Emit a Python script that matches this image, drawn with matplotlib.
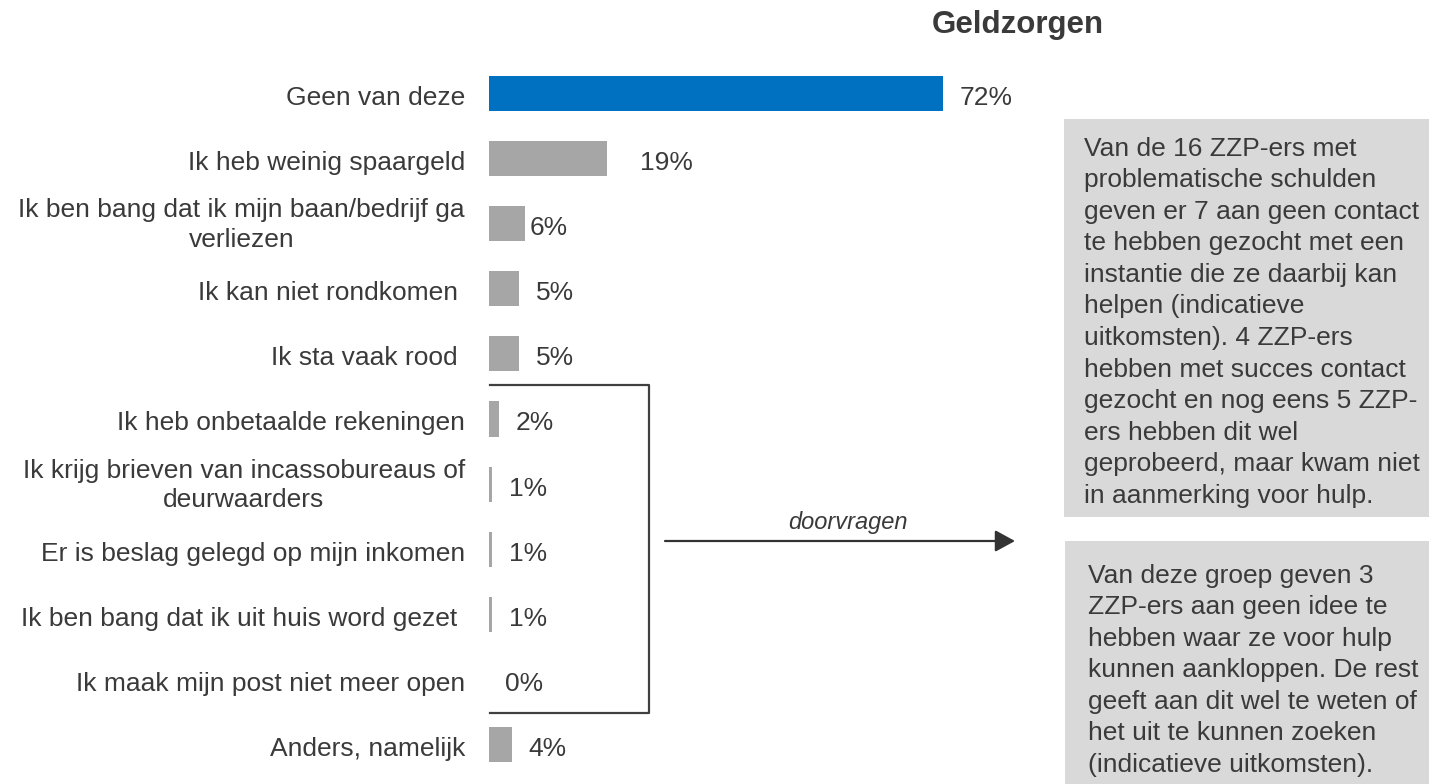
import numpy as np
import matplotlib
matplotlib.use("Agg")
import matplotlib.pyplot as plt
from matplotlib.lines import Line2D
from matplotlib.patches import Rectangle, FancyArrowPatch

plt.rcParams['font.family'] = ['Liberation Sans', 'DejaVu Sans']

# data
categories = [
    "Geen van deze",
    "Ik heb weinig spaargeld",
    "Ik ben bang dat ik mijn baan/bedrijf ga\nverliezen",
    "Ik kan niet rondkomen ",
    "Ik sta vaak rood ",
    "Ik heb onbetaalde rekeningen",
    "Ik krijg brieven van incassobureaus of\ndeurwaarders",
    "Er is beslag gelegd op mijn inkomen",
    "Ik ben bang dat ik uit huis word gezet ",
    "Ik maak mijn post niet meer open",
    "Anders, namelijk",
]
values = [72, 18.7, 5.7, 4.8, 4.8, 1.6, 0.55, 0.55, 0.55, 0, 3.7]
value_labels = ["72%", "19%", "6%", "5%", "5%", "2%", "1%", "1%", "1%", "0%", "4%"]

title = "Geldzorgen"
arrow_label = "doorvragen"
box1_lines = [
    "Van de 16 ZZP-ers met",
    "problematische schulden",
    "geven er 7 aan geen contact",
    "te hebben gezocht met een",
    "instantie die ze daarbij kan",
    "helpen (indicatieve",
    "uitkomsten). 4 ZZP-ers",
    "hebben met succes contact",
    "gezocht en nog eens 5 ZZP-",
    "ers hebben dit wel",
    "geprobeerd, maar kwam niet",
    "in aanmerking voor hulp.",
]
box2_lines = [
    "Van deze groep geven 3",
    "ZZP-ers aan geen idee te",
    "hebben waar ze voor hulp",
    "kunnen aankloppen. De rest",
    "geeft aan dit wel te weten of",
    "het uit te kunnen zoeken",
    "(indicatieve uitkomsten).",
]

W, H = 1429, 784
TXT = '#3a3a3a'
BLUE = '#0070C0'
GREY = '#A6A6A6'
BOX = '#D9D9D9'


def fx(x):
    return x / W


def fy(y):
    return 1 - y / H


fig = plt.figure(figsize=(W / 100, H / 100), dpi=100)

# bar axes: x=0 at pixel 489, 6.306 px per %, rows 65.1 px apart
x0, ppu = 489, 454 / 72
row0, rowh = 93.5, 65.1
ax = fig.add_axes([fx(x0), 0, 1 - fx(x0), 1])
ax.set_xlim(0, (W - x0) / ppu)
ax.set_ylim((H - row0) / rowh, -row0 / rowh)
ax.axis('off')

ypos = np.arange(len(categories))
colors = [BLUE] + [GREY] * (len(categories) - 1)
ax.barh(ypos, values, height=0.54, color=colors)

# value labels
extra = {1: 2.7, 2: -1.9}
for i, (v, lab) in enumerate(zip(values, value_labels)):
    ax.text(v + 2.6 + extra.get(i, 0), i + 0.03, lab, va='center_baseline', ha='left',
            fontsize=19, color=TXT)

# category labels
for i, cat in enumerate(categories):
    dy = -0.06 if '\n' in cat else 0.03
    ax.text(-24 / ppu, i + dy, cat, ha='right', va='center_baseline',
            multialignment='center', fontsize=19, color=TXT, linespacing=1.3)

# bracket
bx = [fx(490), fx(649), fx(649), fx(490)]
by = [fy(385), fy(385), fy(713), fy(713)]
fig.add_artist(Line2D(bx, by, color='#404040', lw=1.6, transform=fig.transFigure))

# arrow
arr = FancyArrowPatch((fx(665), fy(541)), (fx(1015), fy(541)),
                      transform=fig.transFigure,
                      arrowstyle='-|>,head_length=0.55,head_width=0.3',
                      mutation_scale=22, color='#333333', lw=1.6,
                      shrinkA=0, shrinkB=0)
fig.add_artist(arr)
fig.text(fx(848), fy(522), arrow_label, ha='center', va='center',
         fontsize=17, style='italic', color=TXT)

# title
fig.text(fx(1018), fy(25), title, ha='center', va='center', fontsize=22.5,
         fontweight='bold', color=TXT)

# grey text boxes
fig.add_artist(Rectangle((fx(1064), fy(517)), fx(W - 1064), (517 - 119) / H,
                         transform=fig.transFigure, color=BOX, lw=0))
fig.add_artist(Rectangle((fx(1065), 0), fx(W - 1065), (H - 541) / H,
                         transform=fig.transFigure, color=BOX, lw=0))

for k, line in enumerate(box1_lines):
    fig.text(fx(1084), fy(146 + k * 31.6), line, ha='left', va='center_baseline',
             fontsize=19, color=TXT)
for k, line in enumerate(box2_lines):
    fig.text(fx(1088), fy(573 + k * 31.6), line, ha='left', va='center_baseline',
             fontsize=19, color=TXT)

fig.savefig('out.png', dpi=100)
